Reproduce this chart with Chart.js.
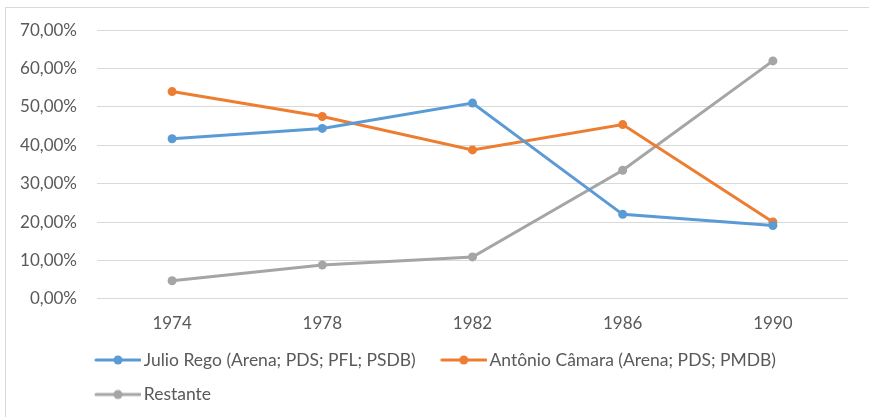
<!DOCTYPE html>
<html>
<head>
<meta charset="utf-8">
<script src="https://cdn.jsdelivr.net/npm/chart.js@4.4.1/dist/chart.umd.min.js"></script>
<style>
  body { margin: 0; background: #fff; }
  #frame { position: absolute; left: 5px; top: 7px; width: 900px; height: 420px; border: 1px solid #d9d9d9; }
  #chart { position: absolute; left: 0; top: 0; }
</style>
</head>
<body>
<div id="frame"></div>
<canvas id="chart" width="869" height="417"></canvas>
<script>
// Categories and series (percent values)
const years = ['1974', '1978', '1982', '1986', '1990'];
const julioRego = [41.7, 44.4, 51.0, 22.0, 19.1];
const antonioCamara = [54.0, 47.5, 38.8, 45.4, 20.0];
const restante = [4.7, 8.8, 10.9, 33.5, 62.0];

const seriesNames = [
    'Julio Rego (Arena; PDS; PFL; PSDB)',
    'Antônio Câmara (Arena; PDS; PMDB)',
    'Restante'
];
const seriesColors = ['#5b9bd5', '#ed7d31', '#a5a5a5'];

const LEGEND_INDENT = 70;

// Legend marker: short line with a dot, drawn on the right part of a small canvas
function legendMarker(color) {
    const c = document.createElement('canvas');
    c.width = 60;
    c.height = 12;
    const g = c.getContext('2d');
    g.strokeStyle = color;
    g.lineWidth = 3;
    g.lineCap = 'round';
    g.beginPath();
    g.moveTo(15, 6);
    g.lineTo(59, 6);
    g.stroke();
    g.fillStyle = color;
    g.beginPath();
    g.arc(37, 6, 4.5, 0, Math.PI * 2);
    g.fill();
    return c;
}

// Indent the legend so it starts under the plot area, as in the original
const legendIndent = {
    id: 'legendIndent',
    afterInit(chart) {
        const legend = chart.legend;
        const fit = legend.fit;
        legend.fit = function () {
            this.maxWidth -= LEGEND_INDENT;
            fit.call(this);
            this.maxWidth += LEGEND_INDENT;
        };
    },
    afterLayout(chart) {
        chart.legend.left = LEGEND_INDENT;
    }
};

const fmt = v => v.toFixed(2).replace('.', ',') + '%';

new Chart(document.getElementById('chart'), {
    type: 'line',
    data: {
        labels: years,
        datasets: [julioRego, antonioCamara, restante].map((values, i) => ({
            label: seriesNames[i],
            data: values,
            borderColor: seriesColors[i],
            backgroundColor: seriesColors[i],
            borderWidth: 3,
            pointRadius: 4.5,
            pointBorderWidth: 0,
            tension: 0
        }))
    },
    options: {
        responsive: false,
        animation: false,
        layout: { padding: { top: 29, right: 21, bottom: 3.75, left: 0 } },
        scales: {
            x: {
                offset: true,
                afterFit(axis) { axis.height = 35.5; },
                grid: { display: false, drawTicks: false },
                border: { display: false },
                ticks: {
                    color: '#595959',
                    font: { family: 'Lato', size: 17 },
                    padding: 15
                }
            },
            y: {
                min: 0,
                max: 70,
                afterFit(axis) { axis.width = 97; },
                grid: { color: '#d9d9d9', lineWidth: 1, drawTicks: false },
                border: { display: false },
                ticks: {
                    stepSize: 10,
                    color: '#595959',
                    font: { family: 'Lato', size: 17 },
                    padding: 20,
                    callback: v => fmt(v)
                }
            }
        },
        plugins: {
            tooltip: { enabled: false },
            legend: {
                position: 'bottom',
                align: 'start',
                labels: {
                    usePointStyle: true,
                    pointStyleWidth: 48,
                    padding: 17,
                    color: '#595959',
                    font: { family: 'Lato', size: 17.5 },
                    generateLabels(chart) {
                        const items = Chart.defaults.plugins.legend.labels.generateLabels(chart);
                        items.forEach(item => {
                            item.pointStyle = legendMarker(seriesColors[item.datasetIndex]);
                        });
                        return items;
                    }
                }
            }
        }
    },
    plugins: [legendIndent]
});
</script>
</body>
</html>
